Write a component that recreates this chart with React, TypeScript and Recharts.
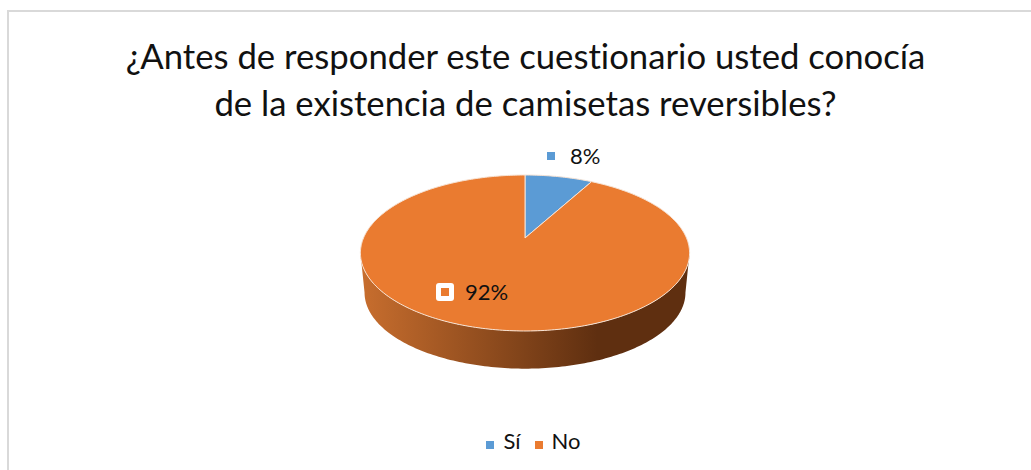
import React from 'react';
import { PieChart, Pie, Legend } from 'recharts';

const categories = ['Sí', 'No'];
const shares = [8, 92];
const sliceColors = ['#5b9bd5', '#ea7b30'];

const chartRows = categories.map((name, i) => ({ name, value: shares[i], fill: sliceColors[i] }));

const FONT = 'Lato, "Open Sans", sans-serif';

// tilt of the disc: far side is foreshortened, so the hub sits above the ellipse centre
const PERSPECTIVE = 0.1923;
const SQUASH = 0.465;
const DEPTH = 40;
const BOTTOM_SCALE = 0.975;
const RIM_LEFT = 101;
const RIM_RIGHT = 259;

const project = (cx: number, cy: number, r: number, clockDeg: number): [number, number] => {
  const t = (clockDeg * Math.PI) / 180;
  const denom = 1 + PERSPECTIVE * Math.cos(t);
  return [cx + (r * Math.sin(t)) / denom, cy - (r * SQUASH * Math.cos(t)) / denom];
};

const sampleArc = (cx: number, cy: number, r: number, from: number, to: number) => {
  const pts: [number, number][] = [];
  const steps = Math.max(2, Math.ceil(Math.abs(to - from)));
  for (let i = 0; i <= steps; i++) pts.push(project(cx, cy, r, from + ((to - from) * i) / steps));
  return pts;
};

const toPath = (pts: [number, number][]) =>
  pts.map((p, i) => `${i === 0 ? 'M' : 'L'}${p[0].toFixed(2)} ${p[1].toFixed(2)}`).join(' ');

// Slice on the tilted disc, plus its outer wall where it faces the viewer
const DiscSlice = (props: any) => {
  const { cx, cy, outerRadius, startAngle, endAngle, fill } = props;
  const from = 90 - startAngle;
  const to = 90 - endAngle;
  const wallFrom = Math.max(from, RIM_LEFT);
  const wallTo = Math.min(to, RIM_RIGHT);
  const top = sampleArc(cx, cy, outerRadius, from, to);
  return (
    <g>
      {wallTo > wallFrom && (
        <path
          d={
            toPath([
              ...sampleArc(cx, cy, outerRadius, wallFrom, wallTo),
              ...sampleArc(cx, cy + DEPTH, outerRadius * BOTTOM_SCALE, wallTo, wallFrom),
            ]) + ' Z'
          }
          fill="url(#wallShade)"
        />
      )}
      <path d={`M${cx} ${cy} ${toPath(top).replace('M', 'L')} Z`} fill={fill} stroke="#f7e3d4" strokeWidth={1} strokeLinejoin="round" />
    </g>
  );
};

const labelOffsets = [
  { dx: 50, dy: -82 },
  { dx: -55, dy: 54 },
];

const SliceLabel = (props: any) => {
  const { cx, cy, index, value, payload } = props;
  const { dx, dy } = labelOffsets[index];
  const x = cx + dx;
  const y = cy + dy;
  const big = index === 1;
  const markerX = big ? x - 25 : x - 24;
  return (
    <g>
      {big && <rect x={markerX - 9} y={y - 9} width={18} height={18} rx={3} fill="#fff" />}
      <rect x={markerX - 4} y={y - 4} width={8} height={8} fill={payload.fill} />
      <text x={x - 5} y={y + 8} fontSize={22} fontFamily={FONT} fill="#111">
        {value}%
      </text>
    </g>
  );
};

export default function App() {
  return (
    <div style={{ position: 'fixed', left: 0, top: 0, width: 1031, height: 470, overflow: 'hidden', background: '#fff' }}>
      <div style={{ position: 'absolute', left: 7, top: 10, right: 0, bottom: 0, borderLeft: '2px solid #d9d9d9', borderTop: '2px solid #d9d9d9' }} />
      <div
        style={{
          position: 'absolute',
          left: 0,
          top: 32,
          width: 1051,
          textAlign: 'center',
          fontFamily: FONT,
          fontSize: 34.7,
          lineHeight: '47px',
          fontVariantLigatures: 'none',
          color: '#111',
        }}
      >
        ¿Antes de responder este cuestionario usted conocía
        <br />
        de la existencia de camisetas reversibles?
      </div>
      <div style={{ position: 'absolute', left: 0, top: 0 }}>
        <PieChart width={1031} height={470} margin={{ top: 0, right: 0, bottom: 0, left: 0 }}>
          <defs>
            <linearGradient id="wallShade" x1="0" y1="0" x2="1" y2="0">
              <stop offset="0" stopColor="#c86e2e" />
              <stop offset="0.72" stopColor="#5f2f10" />
              <stop offset="1" stopColor="#5f2f10" />
            </linearGradient>
          </defs>
          <Pie
            data={chartRows}
            dataKey="value"
            nameKey="name"
            cx={525}
            cy={238}
            outerRadius={161.5}
            startAngle={90}
            endAngle={-270}
            shape={DiscSlice}
            label={SliceLabel}
            labelLine={false}
            isAnimationActive={false}
          />
          <Legend
            iconType="square"
            iconSize={8}
            itemSorter={null}
            formatter={(v: string) => (
              <span style={{ color: '#111', fontFamily: FONT, fontSize: 22, marginLeft: 5, marginRight: 4 }}>{v}</span>
            )}
            wrapperStyle={{ left: 25, top: 427, width: 1031 }}
          />
        </PieChart>
      </div>
    </div>
  );
}
